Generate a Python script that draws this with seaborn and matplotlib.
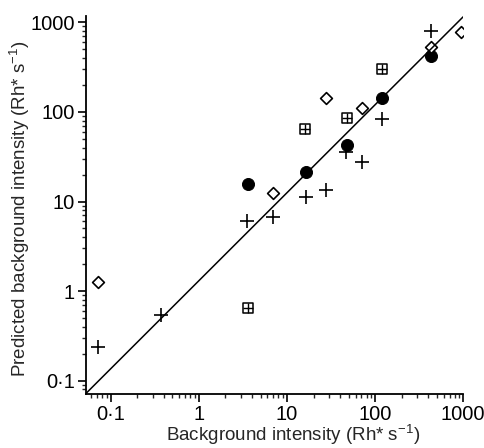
import numpy as np
import pandas as pd
import matplotlib
matplotlib.use("Agg")
import matplotlib.pyplot as plt
import matplotlib.ticker as mticker
import seaborn as sns

plus_x = [433, 121, 46.8, 71.8, 27.7, 16.3, 6.98, 3.54, 0.37, 0.0706]
plus_y = [800, 84, 35.6, 27.5, 13.6, 11.2, 6.8, 6.0, 0.54, 0.24]

circle_x = [433, 119, 47.6, 16.3, 3.63]
circle_y = [417, 144, 42.3, 21.2, 15.8]

diamond_x = [942, 433, 71.8, 27.7, 6.98, 0.0706]
diamond_y = [780, 529, 111, 144, 12.5, 1.25]

square_x = [119, 47.6, 16.0, 3.63]
square_y = [304, 86, 63.7, 0.65]

# line of equality as drawn
line_x = [0.052, 1000]
line_y = [0.072, 1150]

tick_vals = [0.1, 1, 10, 100, 1000]
tick_labels = ['0\u00b71', '1', '10', '100', '1000']

sns.set_style("ticks")
plt.rcParams['font.family'] = ['Liberation Sans', 'DejaVu Sans']
plt.rcParams['mathtext.fontset'] = 'custom'
plt.rcParams['mathtext.rm'] = 'Liberation Sans'
plt.rcParams['mathtext.it'] = 'Liberation Sans'

fig = plt.figure(figsize=(4.85, 4.48), dpi=100)
ax = fig.add_axes([0.177, 0.121, 0.778, 0.843])

sns.lineplot(x=line_x, y=line_y, ax=ax, color='black', linewidth=1.1)

sns.scatterplot(x=plus_x, y=plus_y, ax=ax, marker='+', s=90, color='black',
                linewidth=1.2)
sns.scatterplot(x=circle_x, y=circle_y, ax=ax, marker='o', s=75,
                color='black', edgecolor='black')
sns.scatterplot(x=diamond_x, y=diamond_y, ax=ax, marker='D', s=36,
                facecolor='white', edgecolor='black', linewidth=1.2)
sns.scatterplot(x=square_x, y=square_y, ax=ax, marker='s', s=52,
                facecolor='white', edgecolor='black', linewidth=1.1)
sns.scatterplot(x=square_x, y=square_y, ax=ax, marker='+', s=52,
                color='black', linewidth=1.0)

ax.set_xscale('log')
ax.set_yscale('log')
ax.set_xlim(0.052, 1000)
ax.set_ylim(0.0716, 1170)

for axis in (ax.xaxis, ax.yaxis):
    axis.set_major_locator(mticker.FixedLocator(tick_vals))
    axis.set_major_formatter(mticker.FixedFormatter(tick_labels))
    axis.set_minor_locator(mticker.LogLocator(base=10, subs=np.arange(2, 10)))
    axis.set_minor_formatter(mticker.NullFormatter())

ax.tick_params(which='major', direction='out', length=6, width=1.2,
               labelsize=14.5, colors='black', pad=2)
ax.tick_params(which='minor', direction='out', length=3, width=1.0)

sns.despine(ax=ax)
for s in ('left', 'bottom'):
    ax.spines[s].set_linewidth(1.3)
    ax.spines[s].set_color('black')

ax.set_xlabel(r'Background intensity (Rh* s$^{-1}$)', fontsize=13.5,
              va='center')
ax.set_ylabel(r'Predicted background intensity (Rh* s$^{-1}$)', fontsize=13.5,
              va='center')
ax.xaxis.set_label_coords(0.55, -0.108)
ax.yaxis.set_label_coords(-0.175, 0.49)

fig.savefig('out.png', dpi=100)
